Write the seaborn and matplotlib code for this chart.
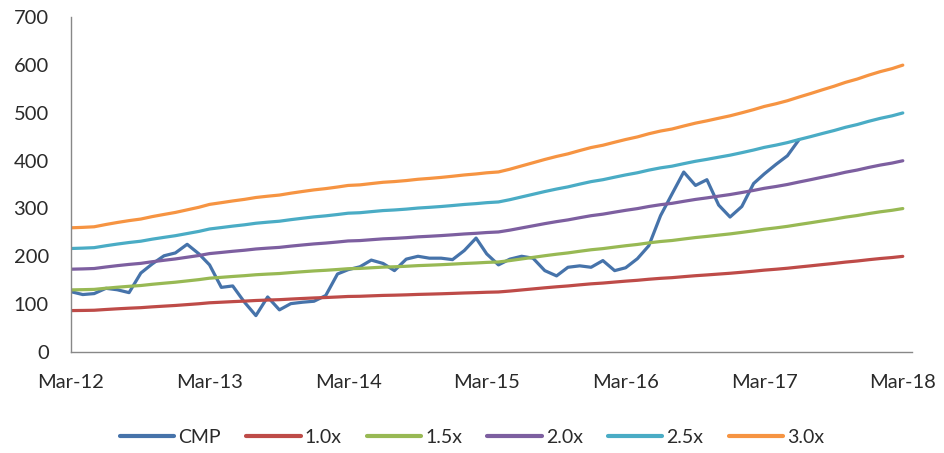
import matplotlib
matplotlib.use("Agg")
import matplotlib.pyplot as plt
import numpy as np
import pandas as pd
import seaborn as sns

# Earnings per share (1.0x band), monthly from Mar-12 to Mar-18
eps = [86.5, 86.8, 87.2, 88.8, 90.2, 91.5, 92.6, 94.3, 95.8, 97.2, 99.0, 100.8,
       102.8, 104.0, 105.2, 106.3, 107.6, 108.5, 109.3, 110.6, 111.8, 112.9, 113.8, 114.9,
       116.0, 116.4, 117.3, 118.2, 118.7, 119.4, 120.3, 120.9, 121.6, 122.4, 123.3, 124.0,
       124.8, 125.4, 127.3, 129.6, 131.8, 134.1, 136.2, 138.0, 140.3, 142.4, 144.0, 146.1,
       148.0, 149.8, 152.0, 153.9, 155.3, 157.4, 159.4, 161.0, 162.8, 164.5, 166.6, 168.8,
       171.0, 172.9, 175.0, 177.6, 180.0, 182.6, 185.1, 187.8, 190.1, 192.8, 195.3, 197.4,
       199.8]

# Share price (CMP), monthly from Mar-12 to Jun-17
cmp_price = [126, 120, 122, 133, 130, 124, 165, 184, 201, 207, 225, 205,
             182, 135, 138, 104, 76, 115, 88, 101, 104, 106, 118, 163,
             172, 178, 192, 185, 170, 194, 200, 196, 196, 193, 212, 238,
             205, 182, 194, 200, 196, 170, 159, 177, 180, 177, 191, 170,
             176, 195, 222, 285, 330, 376, 348, 360, 307, 282, 304, 352,
             372, 392, 410, 444]

multiples = [1.0, 1.5, 2.0, 2.5, 3.0]
band_labels = ["1.0x", "1.5x", "2.0x", "2.5x", "3.0x"]
tick_labels = ["Mar-12", "Mar-13", "Mar-14", "Mar-15", "Mar-16", "Mar-17", "Mar-18"]

dates = pd.date_range("2012-03-01", periods=len(eps), freq="MS")

frames = [pd.DataFrame({"date": dates[:len(cmp_price)], "value": cmp_price, "series": "CMP"})]
for m, lab in zip(multiples, band_labels):
    frames.append(pd.DataFrame({"date": dates, "value": np.array(eps) * m, "series": lab}))
df = pd.concat(frames, ignore_index=True)

palette = {"CMP": "#4673AA", "1.0x": "#BE4B48", "1.5x": "#98B954",
           "2.0x": "#7D5FA0", "2.5x": "#4AACC5", "3.0x": "#F69442"}

sns.set_style("white")
plt.rcParams["font.family"] = ["Lato", "DejaVu Sans"]

fig = plt.figure(figsize=(9.44, 4.53), dpi=100)
ax = fig.add_axes([0.0752, 0.223, 0.8908, 0.7395])

sns.lineplot(data=df, x="date", y="value", hue="series", palette=palette,
             hue_order=["CMP"] + band_labels, linewidth=2.3, ax=ax, legend=True)

# Draw CMP on top of the bands
for line in ax.get_lines():
    if line.get_label() == "CMP":
        line.set_zorder(5)

ax.set_ylim(0, 700)
ax.set_yticks(range(0, 701, 100))
tick_dates = pd.date_range("2012-03-01", periods=len(tick_labels), freq="12MS")
ax.set_xticks(tick_dates)
ax.set_xticklabels(tick_labels)
ax.set_xlim(dates[0], pd.Timestamp("2018-03-25"))

ax.set_xlabel("")
ax.set_ylabel("")
for side in ("top", "right"):
    ax.spines[side].set_visible(False)
for side in ("left", "bottom"):
    ax.spines[side].set_color("#888888")
    ax.spines[side].set_linewidth(1.0)

ax.tick_params(axis="both", which="major", direction="out", length=5, width=1,
               color="#888888", labelsize=14.5, labelcolor="#2a2a2a")
ax.tick_params(axis="x", pad=11)
ax.tick_params(axis="y", pad=11)

handles, labels = ax.get_legend_handles_labels()
ax.legend_.remove()
for h in handles:
    h.set_linewidth(3)
fig.legend(handles, labels, loc="center", bbox_to_anchor=(0.5, 0.035), ncol=6,
           frameon=False, fontsize=14, handlelength=2.8, columnspacing=1.3,
           handletextpad=0.2, labelcolor="#2a2a2a")

fig.savefig("out.png", dpi=100)
